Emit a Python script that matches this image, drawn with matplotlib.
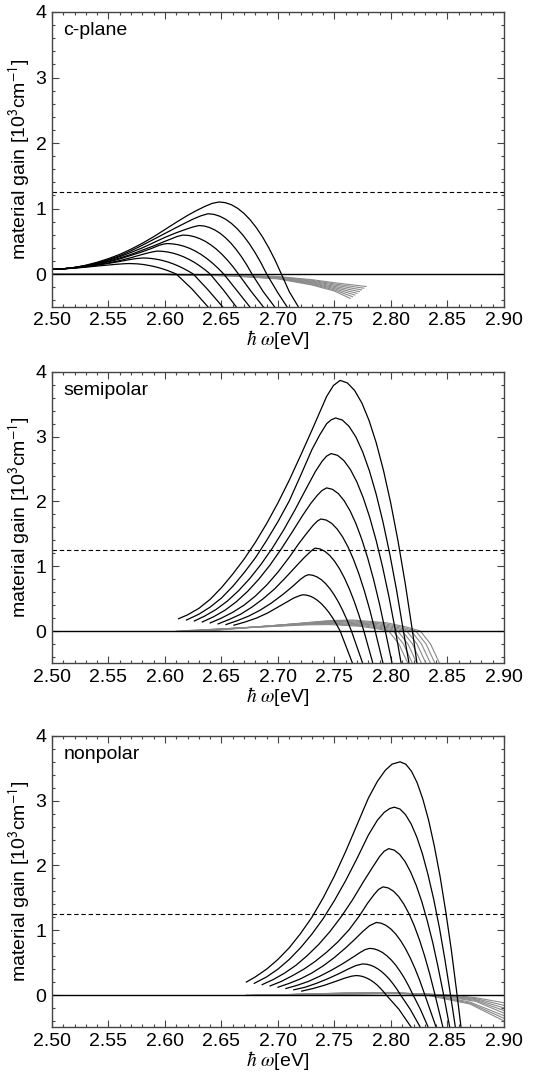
import matplotlib
matplotlib.use("Agg")
import matplotlib.pyplot as plt
from matplotlib.ticker import MultipleLocator, FormatStrFormatter

plt.rcParams['font.family'] = ['Liberation Sans', 'DejaVu Sans']
plt.rcParams['mathtext.fontset'] = 'stix'

############################  DATA  ############################
panel_names = ['c-plane', 'semipolar', 'nonpolar']
threshold = 1.25
x_ticks = [2.50, 2.55, 2.60, 2.65, 2.70, 2.75, 2.80, 2.85, 2.90]
y_ticks = [0, 1, 2, 3, 4]

# c-plane, black curves, low -> high density
cplane_black_x = [
    [2.50, 2.51, 2.52, 2.53, 2.54, 2.55, 2.558, 2.564, 2.568, 2.5722, 2.5764, 2.5806, 2.5848, 2.589, 2.5932, 2.5974, 2.6016, 2.6058, 2.610, 2.624, 2.638, 2.646],
    [2.50, 2.51, 2.52, 2.53, 2.54, 2.55, 2.56, 2.568, 2.574, 2.58, 2.5845, 2.589, 2.5935, 2.598, 2.6025, 2.607, 2.6115, 2.616, 2.6205, 2.625, 2.638, 2.651, 2.66],
    [2.50, 2.51, 2.52, 2.53, 2.54, 2.55, 2.56, 2.57, 2.578, 2.584, 2.589, 2.593, 2.5977, 2.6024, 2.6071, 2.6118, 2.6165, 2.6212, 2.6259, 2.6306, 2.6353, 2.640, 2.652, 2.663, 2.671],
    [2.50, 2.51, 2.52, 2.53, 2.54, 2.55, 2.56, 2.57, 2.58, 2.588, 2.595, 2.599, 2.602, 2.607, 2.612, 2.617, 2.622, 2.627, 2.632, 2.637, 2.642, 2.647, 2.652, 2.664, 2.675, 2.683],
    [2.50, 2.51, 2.52, 2.53, 2.54, 2.55, 2.56, 2.57, 2.58, 2.59, 2.60, 2.606, 2.611, 2.616, 2.6209, 2.6258, 2.6307, 2.6356, 2.6405, 2.6454, 2.6503, 2.6552, 2.6601, 2.665, 2.676, 2.687, 2.695],
    [2.50, 2.51, 2.52, 2.53, 2.54, 2.55, 2.56, 2.57, 2.58, 2.59, 2.60, 2.61, 2.618, 2.625, 2.630, 2.6347, 2.6394, 2.6441, 2.6488, 2.6535, 2.6582, 2.6629, 2.6676, 2.6723, 2.677, 2.687, 2.697, 2.705],
    [2.50, 2.51, 2.52, 2.53, 2.54, 2.55, 2.56, 2.57, 2.58, 2.59, 2.60, 2.61, 2.618, 2.625, 2.632, 2.638, 2.6432, 2.6484, 2.6536, 2.6588, 2.664, 2.6692, 2.6744, 2.6796, 2.6848, 2.690, 2.70, 2.708, 2.715],
    [2.50, 2.51, 2.52, 2.53, 2.54, 2.55, 2.56, 2.57, 2.58, 2.59, 2.60, 2.61, 2.62, 2.628, 2.635, 2.642, 2.648, 2.6535, 2.659, 2.6645, 2.670, 2.6755, 2.681, 2.6865, 2.692, 2.6975, 2.703, 2.71, 2.718, 2.725],
]
cplane_black_y = [
    [.07, .078, .09, .105, .122, .138, .15, .157, .16, .158, .154, .146, .134, .12, .102, .082, .058, .03, 0, -.23, -.50, -.68],
    [.07, .08, .092, .11, .135, .162, .192, .218, .235, .245, .243, .235, .223, .206, .184, .157, .125, .088, .047, 0, -.24, -.50, -.70],
    [.07, .08, .095, .115, .14, .17, .205, .25, .29, .318, .338, .35, .347, .336, .319, .294, .263, .224, .179, .126, .067, 0, -.25, -.50, -.70],
    [.07, .08, .097, .12, .148, .185, .23, .285, .34, .39, .44, .458, .465, .46, .446, .423, .391, .349, .298, .237, .167, .088, 0, -.26, -.50, -.70],
    [.07, .08, .10, .125, .155, .195, .245, .30, .365, .43, .50, .54, .575, .595, .589, .571, .541, .50, .446, .381, .303, .214, .113, 0, -.26, -.50, -.70],
    [.07, .08, .10, .125, .16, .21, .265, .33, .40, .48, .56, .63, .68, .72, .74, .733, .71, .673, .622, .555, .474, .377, .266, .141, 0, -.27, -.50, -.72],
    [.07, .08, .10, .13, .17, .22, .28, .355, .44, .53, .62, .71, .78, .84, .89, .92, .911, .883, .837, .773, .69, .589, .469, .331, .175, 0, -.29, -.50, -.72],
    [.07, .08, .10, .135, .18, .235, .30, .38, .47, .57, .68, .79, .895, .97, 1.03, 1.08, 1.10, 1.089, 1.056, 1.001, .924, .825, .704, .561, .396, .209, 0, -.27, -.50, -.75],
]
# c-plane, grey curves
cplane_grey_x = [
    [2.50, 2.60, 2.66, 2.70, 2.73, 2.75, 2.778],
    [2.50, 2.60, 2.66, 2.70, 2.73, 2.75, 2.776],
    [2.50, 2.60, 2.66, 2.70, 2.73, 2.75, 2.774],
    [2.50, 2.60, 2.66, 2.70, 2.73, 2.75, 2.772],
    [2.50, 2.60, 2.66, 2.70, 2.73, 2.75, 2.770],
    [2.50, 2.60, 2.66, 2.70, 2.73, 2.75, 2.768],
    [2.50, 2.60, 2.66, 2.70, 2.73, 2.75, 2.766],
    [2.50, 2.60, 2.66, 2.70, 2.73, 2.75, 2.764],
]
cplane_grey_y = [
    [0, -.004, -.015, -.038, -.086, -.133, -.19],
    [0, -.004, -.017, -.043, -.097, -.151, -.216],
    [0, -.005, -.019, -.048, -.109, -.169, -.242],
    [0, -.005, -.021, -.054, -.121, -.188, -.268],
    [0, -.006, -.024, -.059, -.132, -.206, -.294],
    [0, -.006, -.026, -.064, -.144, -.224, -.32],
    [0, -.007, -.028, -.069, -.156, -.242, -.346],
    [0, -.007, -.030, -.074, -.167, -.260, -.372],
]

# semipolar, black curves
semi_black_x = [
    [2.661, 2.671, 2.681, 2.691, 2.700, 2.708, 2.714, 2.719, 2.722, 2.7253, 2.7286, 2.7319, 2.7352, 2.7385, 2.7418, 2.7451, 2.7484, 2.7517, 2.755, 2.766, 2.771],
    [2.654, 2.664, 2.674, 2.684, 2.694, 2.704, 2.713, 2.720, 2.724, 2.727, 2.7308, 2.7346, 2.7384, 2.7422, 2.746, 2.7498, 2.7536, 2.7574, 2.7612, 2.765, 2.775, 2.780],
    [2.647, 2.657, 2.667, 2.677, 2.687, 2.697, 2.707, 2.716, 2.723, 2.729, 2.731, 2.733, 2.7373, 2.7416, 2.7459, 2.7502, 2.7545, 2.7588, 2.7631, 2.7674, 2.7717, 2.776, 2.784, 2.789],
    [2.640, 2.65, 2.66, 2.67, 2.68, 2.69, 2.70, 2.71, 2.718, 2.725, 2.731, 2.735, 2.738, 2.7428, 2.7476, 2.7524, 2.7572, 2.762, 2.7668, 2.7716, 2.7764, 2.7812, 2.786, 2.793, 2.798],
    [2.633, 2.643, 2.653, 2.663, 2.673, 2.683, 2.693, 2.703, 2.713, 2.722, 2.729, 2.735, 2.739, 2.743, 2.7482, 2.7534, 2.7586, 2.7638, 2.769, 2.7742, 2.7794, 2.7846, 2.7898, 2.795, 2.801, 2.806],
    [2.626, 2.635, 2.645, 2.655, 2.665, 2.675, 2.685, 2.695, 2.705, 2.715, 2.725, 2.733, 2.739, 2.743, 2.747, 2.7527, 2.7584, 2.7641, 2.7698, 2.7755, 2.7812, 2.7869, 2.7926, 2.7983, 2.804, 2.809, 2.814],
    [2.619, 2.63, 2.64, 2.65, 2.66, 2.67, 2.68, 2.69, 2.70, 2.71, 2.72, 2.73, 2.737, 2.743, 2.747, 2.751, 2.757, 2.763, 2.769, 2.775, 2.781, 2.787, 2.793, 2.799, 2.805, 2.811, 2.816, 2.821],
    [2.612, 2.62, 2.63, 2.64, 2.65, 2.66, 2.67, 2.68, 2.69, 2.70, 2.71, 2.72, 2.73, 2.737, 2.743, 2.749, 2.755, 2.7614, 2.7678, 2.7742, 2.7806, 2.787, 2.7934, 2.7998, 2.8062, 2.8126, 2.819, 2.823, 2.828],
]
semi_black_y = [
    [.09, .14, .20, .28, .37, .45, .51, .545, .56, .554, .538, .51, .47, .42, .358, .286, .202, .106, 0, -.5, -.72],
    [.10, .16, .23, .32, .43, .56, .69, .80, .85, .87, .861, .835, .792, .731, .653, .557, .444, .313, .165, 0, -.5, -.75],
    [.11, .18, .26, .37, .50, .65, .83, 1.00, 1.13, 1.23, 1.26, 1.28, 1.267, 1.229, 1.165, 1.075, .96, .819, .653, .461, .243, 0, -.5, -.8],
    [.125, .20, .29, .40, .54, .71, .91, 1.14, 1.34, 1.50, 1.63, 1.70, 1.73, 1.713, 1.661, 1.574, 1.453, 1.298, 1.107, .882, .623, .329, 0, -.5, -.85],
    [.14, .22, .32, .45, .61, .80, 1.02, 1.27, 1.54, 1.79, 1.97, 2.10, 2.17, 2.21, 2.188, 2.122, 2.011, 1.856, 1.658, 1.414, 1.127, .796, .42, 0, -.5, -.95],
    [.155, .23, .33, .46, .62, .81, 1.03, 1.28, 1.56, 1.87, 2.20, 2.46, 2.62, 2.70, 2.74, 2.713, 2.63, 2.493, 2.302, 2.055, 1.754, 1.397, .986, .521, 0, -.5, -1.0],
    [.17, .26, .37, .51, .69, .90, 1.13, 1.40, 1.69, 2.01, 2.40, 2.80, 3.03, 3.20, 3.26, 3.29, 3.257, 3.158, 2.994, 2.764, 2.468, 2.106, 1.678, 1.184, .625, 0, -.5, -1.05],
    [.19, .25, .35, .49, .67, .88, 1.11, 1.37, 1.66, 1.98, 2.33, 2.71, 3.10, 3.38, 3.62, 3.79, 3.87, 3.831, 3.715, 3.522, 3.251, 2.903, 2.477, 1.974, 1.393, .735, 0, -.5, -1.1],
]
semi_grey_x = [
    [2.610, 2.6775, 2.725, 2.745, 2.7715, 2.7874, 2.798, 2.807, 2.815, 2.819],
    [2.614, 2.681, 2.728, 2.748, 2.775, 2.7912, 2.802, 2.811, 2.819, 2.823],
    [2.618, 2.6845, 2.731, 2.751, 2.7785, 2.795, 2.806, 2.815, 2.823, 2.827],
    [2.622, 2.688, 2.734, 2.754, 2.782, 2.7988, 2.810, 2.819, 2.827, 2.831],
    [2.626, 2.6915, 2.737, 2.757, 2.7855, 2.8026, 2.814, 2.823, 2.831, 2.835],
    [2.630, 2.695, 2.740, 2.760, 2.789, 2.8064, 2.818, 2.827, 2.835, 2.839],
    [2.634, 2.6985, 2.743, 2.763, 2.7925, 2.8102, 2.822, 2.831, 2.839, 2.843],
    [2.638, 2.702, 2.746, 2.766, 2.796, 2.814, 2.826, 2.835, 2.843, 2.847],
]
semi_grey_y = [
    [0, .055, .095, .10, .075, .036, 0, -.2, -.5, -.65],
    [0, .0605, .1045, .11, .0825, .0396, 0, -.2, -.5, -.65],
    [0, .066, .114, .12, .09, .0432, 0, -.2, -.5, -.65],
    [0, .0715, .1235, .13, .0975, .0468, 0, -.2, -.5, -.65],
    [0, .077, .133, .14, .105, .0504, 0, -.2, -.5, -.65],
    [0, .0825, .1425, .15, .1125, .054, 0, -.2, -.5, -.65],
    [0, .088, .152, .16, .12, .0576, 0, -.2, -.5, -.65],
    [0, .0935, .1615, .17, .1275, .0612, 0, -.2, -.5, -.65],
]

# nonpolar, black curves
non_black_x = [
    [2.721, 2.731, 2.741, 2.751, 2.759, 2.765, 2.769, 2.7717, 2.7744, 2.777, 2.7797, 2.7824, 2.7851, 2.7878, 2.7904, 2.7931, 2.7958, 2.807, 2.818, 2.824],
    [2.714, 2.724, 2.734, 2.744, 2.754, 2.762, 2.769, 2.775, 2.7784, 2.7817, 2.7851, 2.7884, 2.7918, 2.7951, 2.7985, 2.8018, 2.8052, 2.8085, 2.817, 2.826, 2.831],
    [2.707, 2.717, 2.727, 2.737, 2.747, 2.757, 2.766, 2.773, 2.777, 2.781, 2.7849, 2.7887, 2.7926, 2.7964, 2.8003, 2.8042, 2.808, 2.8119, 2.8157, 2.8196, 2.826, 2.833, 2.838],
    [2.700, 2.710, 2.720, 2.730, 2.740, 2.750, 2.760, 2.768, 2.775, 2.781, 2.787, 2.7913, 2.7956, 2.7999, 2.8042, 2.8085, 2.8128, 2.8171, 2.8214, 2.8257, 2.830, 2.840, 2.845],
    [2.693, 2.703, 2.713, 2.723, 2.733, 2.743, 2.753, 2.763, 2.772, 2.779, 2.785, 2.789, 2.793, 2.7976, 2.8022, 2.8068, 2.8114, 2.816, 2.8206, 2.8252, 2.8298, 2.8344, 2.839, 2.846, 2.850],
    [2.686, 2.696, 2.706, 2.716, 2.726, 2.736, 2.746, 2.756, 2.766, 2.776, 2.784, 2.790, 2.794, 2.798, 2.8029, 2.8077, 2.8126, 2.8174, 2.8223, 2.8272, 2.832, 2.8369, 2.8417, 2.8466, 2.852, 2.856],
    [2.679, 2.69, 2.70, 2.71, 2.72, 2.73, 2.74, 2.75, 2.76, 2.77, 2.78, 2.788, 2.794, 2.799, 2.803, 2.808, 2.8129, 2.8179, 2.8229, 2.8279, 2.8328, 2.8378, 2.8428, 2.8477, 2.8527, 2.857, 2.861],
    [2.672, 2.68, 2.69, 2.70, 2.71, 2.72, 2.73, 2.74, 2.75, 2.76, 2.77, 2.78, 2.788, 2.795, 2.801, 2.808, 2.8131, 2.8181, 2.8232, 2.8282, 2.8333, 2.8383, 2.8434, 2.8484, 2.8535, 2.8585, 2.862, 2.866],
]
non_black_y = [
    [.06, .10, .15, .21, .26, .29, .30, .297, .288, .273, .252, .225, .192, .153, .108, .057, 0, -.22, -.5, -.68],
    [.08, .12, .18, .25, .33, .40, .455, .48, .475, .461, .437, .403, .36, .307, .245, .173, .091, 0, -.22, -.5, -.68],
    [.10, .15, .21, .29, .38, .48, .58, .66, .70, .72, .713, .691, .655, .605, .54, .461, .367, .259, .137, 0, -.22, -.5, -.72],
    [.12, .18, .25, .34, .45, .58, .73, .86, .98, 1.07, 1.12, 1.109, 1.075, 1.019, .941, .84, .717, .571, .403, .213, 0, -.5, -.8],
    [.14, .21, .30, .40, .52, .66, .82, 1.01, 1.22, 1.41, 1.55, 1.63, 1.67, 1.653, 1.603, 1.52, 1.403, 1.253, 1.069, .852, .601, .317, 0, -.5, -.85],
    [.16, .24, .34, .46, .61, .78, .98, 1.21, 1.47, 1.76, 1.98, 2.14, 2.22, 2.26, 2.237, 2.17, 2.057, 1.898, 1.695, 1.446, 1.153, .814, .429, 0, -.5, -.95],
    [.18, .28, .40, .55, .73, .94, 1.18, 1.46, 1.77, 2.11, 2.47, 2.70, 2.82, 2.88, 2.90, 2.871, 2.784, 2.639, 2.436, 2.175, 1.856, 1.479, 1.044, .551, 0, -.5, -1.0],
    [.20, .28, .40, .55, .73, .95, 1.20, 1.50, 1.84, 2.22, 2.63, 3.04, 3.30, 3.47, 3.565, 3.60, 3.564, 3.456, 3.276, 3.024, 2.70, 2.304, 1.836, 1.296, .684, 0, -.5, -1.05],
]
non_grey_x = [
    [2.672, 2.76, 2.80, 2.83, 2.852, 2.875, 2.90],
    [2.676, 2.76, 2.80, 2.83, 2.849, 2.875, 2.90],
    [2.680, 2.76, 2.80, 2.83, 2.846, 2.875, 2.90],
    [2.684, 2.76, 2.80, 2.825, 2.843, 2.875, 2.90],
    [2.688, 2.76, 2.80, 2.822, 2.840, 2.875, 2.90],
    [2.692, 2.76, 2.80, 2.82, 2.837, 2.87, 2.90],
    [2.696, 2.76, 2.80, 2.818, 2.834, 2.87, 2.90],
    [2.700, 2.76, 2.80, 2.815, 2.831, 2.87, 2.90],
]
non_grey_y = [
    [0, .012, .022, .015, 0, -.042, -.12],
    [0, .015, .026, .016, 0, -.056, -.16],
    [0, .018, .029, .016, 0, -.07, -.20],
    [0, .021, .032, .02, 0, -.084, -.24],
    [0, .024, .035, .02, 0, -.098, -.28],
    [0, .027, .037, .02, 0, -.11, -.32],
    [0, .030, .038, .02, 0, -.125, -.36],
    [0, .033, .039, .02, 0, -.14, -.40],
]
######################################################################################

black_sets = [(cplane_black_x, cplane_black_y), (semi_black_x, semi_black_y), (non_black_x, non_black_y)]
grey_sets = [(cplane_grey_x, cplane_grey_y), (semi_grey_x, semi_grey_y), (non_grey_x, non_grey_y)]

# axes boxes in figure fractions: [left, bottom, width, height]
boxes = [
    [0.0942, 0.7162, 0.8188, 0.2727],
    [0.0942, 0.3863, 0.8188, 0.2696],
    [0.0942, 0.0496, 0.8188, 0.2696],
]

fig = plt.figure(figsize=(5.52, 10.81), dpi=100)

for name, box, (bx, by), (gx, gy) in zip(panel_names, boxes, black_sets, grey_sets):
    ax = fig.add_axes(box)
    for xs, ys in zip(gx, gy):
        ax.plot(xs, ys, color='#8a8a8a', lw=0.8, solid_joinstyle='round')
    ax.axhline(0, color='black', lw=1.0)
    ax.axhline(threshold, color='black', lw=0.8, ls=(0, (4, 2.5)))
    for xs, ys in zip(bx, by):
        ax.plot(xs, ys, color='black', lw=0.9, solid_joinstyle='round')

    ax.set_xlim(2.50, 2.90)
    ax.set_ylim(-0.5, 4.0)
    ax.set_xticks(x_ticks)
    ax.set_yticks(y_ticks)
    ax.xaxis.set_major_formatter(FormatStrFormatter('%.2f'))
    ax.xaxis.set_minor_locator(MultipleLocator(0.01))
    ax.yaxis.set_minor_locator(MultipleLocator(0.2))
    ax.tick_params(which='both', direction='in', top=True, right=True, labelsize=14,
                   color='#444444', width=0.8)
    ax.tick_params(which='major', length=5, pad=4)
    ax.tick_params(which='minor', length=2.5)
    for sp in ax.spines.values():
        sp.set_color('#444444')
        sp.set_linewidth(1.0)

    ax.set_xlabel(r'$\hbar\ \omega$[eV]', fontsize=14, labelpad=-1)
    ax.set_ylabel(r'material gain [10$^{\mathsf{3}}$cm$^{\mathsf{-1}}$]', fontsize=14, labelpad=2)
    ax.text(0.025, 0.965, name, transform=ax.transAxes, ha='left', va='top', fontsize=14)

fig.savefig('out.png', dpi=100)
